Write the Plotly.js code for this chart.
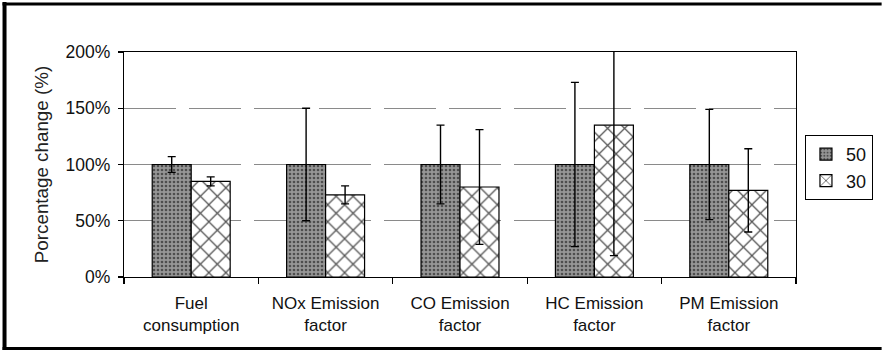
<!DOCTYPE html>
<html>
<head>
<meta charset="utf-8">
<script src="https://cdn.plot.ly/plotly-3.0.1.min.js"></script>
<style>
  html, body { margin: 0; padding: 0; background: #fff; }
  #chart { width: 885px; height: 350px; }
</style>
</head>
<body>
<div id="chart"></div>
<script>
// ---- data ----
const categories = [
  "Fuel<br>consumption",
  "NOx Emission<br>factor",
  "CO Emission<br>factor",
  "HC Emission<br>factor",
  "PM Emission<br>factor"
];
const seriesNames = ["50", "30"];
const values50 = [100, 100, 100, 100, 100];
const errors50 = [7, 50, 35, 73, 49];
const values30 = [85, 73, 80, 135, 77];
const errors30 = [4, 8, 51, 116, 37];
const yTickValues = [0, 50, 100, 150, 200];
const yTickLabels = ["0%", "50%", "100%", "150%", "200%"];

const FONT = "Liberation Sans, Arial, sans-serif";

const trace50 = {
  type: "bar",
  name: seriesNames[0],
  x: categories,
  y: values50,
  legendgroup: "a",
  marker: {
    color: "#8a8a8a",
    line: { color: "#000", width: 1.2 },
    pattern: { shape: ".", fgcolor: "#4e4e4e", bgcolor: "#969696", size: 4, solidity: 0.35 }
  },
  error_y: { type: "data", array: errors50, visible: true, color: "#000", thickness: 1.4, width: 4 }
};
const trace30 = {
  type: "bar",
  name: seriesNames[1],
  x: categories,
  y: values30,
  legendgroup: "b",
  marker: {
    color: "#ffffff",
    line: { color: "#000", width: 1.2 },
    pattern: { shape: "x", fgcolor: "#555", bgcolor: "#ffffff", size: 12, solidity: 0.2 }
  },
  error_y: { type: "data", array: errors30, visible: true, color: "#000", thickness: 1.4, width: 4 }
};

// frame helpers (paper coords for the plot area: l=124, r=799, t=52, b=277)
const px2x = p => (p - 124) / 675;
const px2y = p => (277 - p) / 225;

const layout = {
  width: 885,
  height: 350,
  margin: { l: 124, r: 86, t: 52, b: 73 },
  paper_bgcolor: "#fff",
  plot_bgcolor: "#fff",
  font: { family: FONT, size: 17, color: "#111" },
  barmode: "group",
  bargap: 0.42,
  bargroupgap: 0,
  showlegend: true,
  legend: {
    x: px2x(808), y: px2y(135), xanchor: "left", yanchor: "top",
    bordercolor: "#000", borderwidth: 1, bgcolor: "#fff",
    font: { family: FONT, size: 18, color: "#111" },
    traceorder: "grouped", tracegroupgap: 0
  },
  xaxis: {
    type: "category",
    showline: true, linecolor: "#000", linewidth: 1.2, mirror: true,
    ticks: "outside", tickson: "boundaries", ticklen: 6, tickcolor: "#000", tickwidth: 1.2,
    showgrid: false,
    tickangle: 0,
    tickfont: { family: FONT, size: 17, color: "#111" },
    ticklabelstandoff: 10,
    automargin: false
  },
  yaxis: {
    range: [0, 200],
    tickvals: yTickValues,
    ticktext: yTickLabels,
    showline: true, linecolor: "#000", linewidth: 1.2, mirror: true,
    ticks: "outside", ticklen: 5, tickcolor: "#000", tickwidth: 1.2,
    showgrid: true, gridcolor: "#8a8a8a", gridwidth: 1.2, griddash: "52px,13px",
    zeroline: false,
    tickfont: { family: FONT, size: 17.5, color: "#111" },
    ticklabelstandoff: 4,
    title: { text: "Porcentage change (%)", font: { family: FONT, size: 18.8, color: "#222" }, standoff: 12 },
    automargin: false
  },
  shapes: [
    { type: "line", xref: "paper", yref: "paper", x0: px2x(4), x1: px2x(4), y0: px2y(2), y1: px2y(350), line: { color: "#000", width: 4 } },
    { type: "line", xref: "paper", yref: "paper", x0: px2x(2), x1: px2x(885), y0: px2y(4), y1: px2y(4), line: { color: "#000", width: 3 } },
    { type: "line", xref: "paper", yref: "paper", x0: px2x(2), x1: px2x(885), y0: px2y(348.5), y1: px2y(348.5), line: { color: "#000", width: 3 } }
  ]
};

Plotly.newPlot("chart", [trace50, trace30], layout, { staticPlot: true, displayModeBar: false });
</script>
</body>
</html>
